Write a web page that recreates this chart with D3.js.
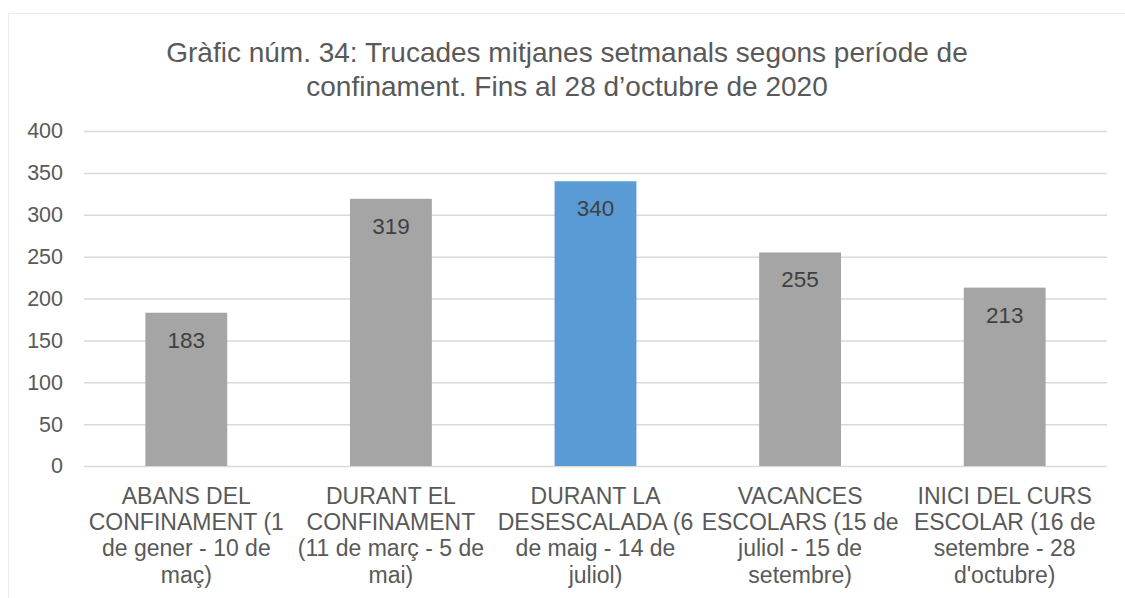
<!DOCTYPE html>
<html>
<head>
<meta charset="utf-8">
<script src="https://cdn.jsdelivr.net/npm/d3@7"></script>
<style>
body { margin: 0; background: #fff; }
text { font-family: "Liberation Sans", Arial, sans-serif; }
</style>
</head>
<body>
<svg id="chart" width="1125" height="598"></svg>
<script>
// data
const categories = [
	["ABANS DEL", "CONFINAMENT (1", "de gener - 10 de", "maç)"],
	["DURANT EL", "CONFINAMENT", "(11 de març - 5 de", "mai)"],
	["DURANT LA", "DESESCALADA (6", "de maig - 14 de", "juliol)"],
	["VACANCES", "ESCOLARS (15 de", "juliol - 15 de", "setembre)"],
	["INICI DEL CURS", "ESCOLAR (16 de", "setembre - 28", "d'octubre)"]
];
const values = [183, 319, 340, 255, 213];
const highlight = [false, false, true, false, false];
const y_ticks = [0, 50, 100, 150, 200, 250, 300, 350, 400];
const title_lines = [
	"Gràfic núm. 34: Trucades mitjanes setmanals segons període de",
	"confinament. Fins al 28 d\u2019octubre de 2020"
];

const svg = d3.select("#chart");
const plot_left = 84, plot_right = 1107, plot_top = 131, plot_bottom = 466;

// frame
svg.append("path")
	.attr("d", `M8.5,598 L8.5,13.5 L1125,13.5`)
	.style("fill", "none").style("stroke", "#ebebeb");

svg.selectAll("text.title").data(title_lines).enter()
	.append("text").attr("class", "title")
	.attr("x", 567).attr("y", (d, i) => 62 + i * 34)
	.attr("text-anchor", "middle")
	.style("font-size", "28px").style("fill", "#595959")
	.text(d => d);

const x = d3.scaleBand().domain(d3.range(values.length)).range([plot_left, plot_right]).paddingInner(0.6).paddingOuter(0.3);
const y = d3.scaleLinear().domain([0, 400]).range([plot_bottom, plot_top]);

// gridlines
const grid = svg.append("g").attr("transform", `translate(${plot_left},0)`)
	.call(d3.axisLeft(y).tickValues(y_ticks).tickSize(-(plot_right - plot_left)).tickFormat(""));
grid.select(".domain").remove();
grid.selectAll("line").style("stroke", "#d9d9d9").style("stroke-width", 1.5);

// y labels
const yax = svg.append("g").attr("transform", `translate(63,0)`)
	.call(d3.axisLeft(y).tickValues(y_ticks).tickSize(0).tickPadding(0));
yax.select(".domain").remove();
yax.selectAll("text").style("font-size", "21.5px").style("fill", "#595959")
	.style("font-family", "Liberation Sans, Arial, sans-serif");

// bars
svg.selectAll("rect.bar").data(values).enter()
	.append("rect").attr("class", "bar")
	.attr("x", (d, i) => x(i))
	.attr("width", x.bandwidth())
	.attr("y", d => y(d))
	.attr("height", d => plot_bottom - y(d))
	.style("fill", (d, i) => highlight[i] ? "#5b9bd5" : "#a5a5a5");

// value labels
svg.selectAll("text.val").data(values).enter()
	.append("text").attr("class", "val")
	.attr("x", (d, i) => x(i) + x.bandwidth() / 2)
	.attr("y", d => y(d) + 35)
	.attr("text-anchor", "middle")
	.style("font-size", "22.5px").style("fill", "#404040")
	.text(d => d);

// category labels
const cats = svg.selectAll("g.cat").data(categories).enter()
	.append("g").attr("class", "cat")
	.attr("transform", (d, i) => `translate(${x(i) + x.bandwidth() / 2},0)`);
cats.selectAll("text").data(d => d).enter()
	.append("text")
	.attr("y", (d, i) => 504 + i * 26.2)
	.attr("text-anchor", "middle")
	.style("font-size", "23px").style("fill", "#595959")
	.text(d => d);
</script>
</body>
</html>
